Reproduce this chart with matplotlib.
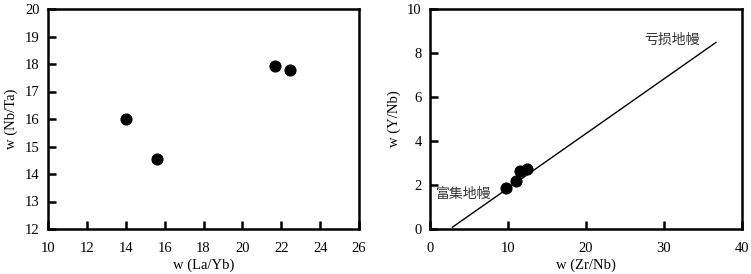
import numpy as np
import matplotlib.pyplot as plt

plt.rcParams['font.family'] = ['Liberation Serif', 'Noto Sans CJK SC']
plt.rcParams['font.size'] = 10.5

# left panel data
la_yb = [14.03, 15.63, 21.66, 22.47]
nb_ta = [16.01, 14.53, 17.92, 17.79]

# right panel data
zr_nb = [9.71, 11.04, 11.55, 12.49]
y_nb = [1.86, 2.17, 2.65, 2.74]
line_x = [2.87, 36.66]
line_y = [0.08, 8.48]

fig = plt.figure(figsize=(7.51, 2.74), dpi=100)
W, H = 751., 274.
ax1 = fig.add_axes([48 / W, 1 - 229 / H, (359 - 48) / W, (229 - 9) / H])
ax2 = fig.add_axes([430 / W, 1 - 229 / H, (742 - 430) / W, (229 - 9) / H])

for ax in (ax1, ax2):
    for s in ax.spines.values():
        s.set_linewidth(1.8)
    ax.tick_params(direction='in', length=6, width=1.8)
    ax.tick_params(axis='x', pad=9)
    ax.tick_params(axis='y', pad=6)

ax1.scatter(la_yb, nb_ta, s=60, color='black', zorder=3)
ax1.set_xlim(10, 26)
ax1.set_ylim(12, 20)
ax1.set_xticks(np.arange(10, 27, 2))
ax1.set_yticks(np.arange(12, 21, 1))
ax1.set_xlabel('w (La/Yb)', labelpad=3)
ax1.set_ylabel('w (Nb/Ta)', labelpad=5)

ax2.plot(line_x, line_y, color='black', lw=1)
ax2.scatter(zr_nb, y_nb, s=60, color='black', zorder=3)
ax2.set_xlim(0, 40)
ax2.set_ylim(0, 10)
ax2.set_xticks(np.arange(0, 41, 10))
ax2.set_yticks(np.arange(0, 11, 2))
ax2.set_xlabel('w (Zr/Nb)', labelpad=3)
ax2.set_ylabel('w (Y/Nb)', labelpad=4)
ax2.text(27.5, 8.6, '亏损地幔', family=['Noto Sans CJK SC'], fontsize=10, color='#333333', va='center')
ax2.text(0.8, 1.6, '富集地幔', family=['Noto Sans CJK SC'], fontsize=10, color='#333333', va='center')

fig.savefig('out.png', dpi=100)
